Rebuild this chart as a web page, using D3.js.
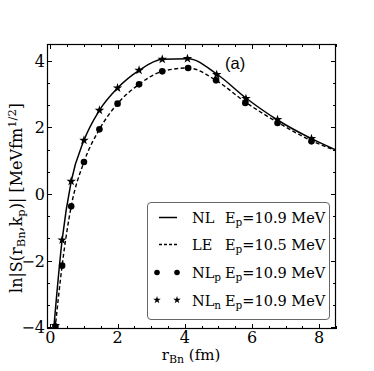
<!DOCTYPE html>
<html><head><meta charset="utf-8">
<script src="https://cdn.jsdelivr.net/npm/d3@7"></script>
<style>body{margin:0;background:#fff}svg{display:block}</style>
</head><body>
<script>
// ---- data ----
const nlX = [0.1, 0.35, 0.62, 1.0, 1.46, 2.0, 2.64, 3.33, 4.1, 4.95, 5.82, 6.76, 7.77, 8.5];
const nlY = [-4.05, -1.38, 0.38, 1.61, 2.51, 3.18, 3.71, 4.04, 4.06, 3.6, 2.88, 2.22, 1.66, 1.32];
const leX = [0.14, 0.35, 0.62, 1.0, 1.46, 2.0, 2.64, 3.33, 4.1, 4.93, 5.8, 6.76, 7.77, 8.5];
const leY = [-4.05, -2.15, -0.37, 0.96, 1.94, 2.71, 3.29, 3.68, 3.78, 3.41, 2.76, 2.15, 1.6, 1.3];
const dotX = [0.15, 0.35, 0.62, 1.0, 1.46, 2.0, 2.64, 3.33, 4.1, 4.93, 5.8, 6.76, 7.77];
const dotY = [-3.98, -2.15, -0.37, 0.96, 1.94, 2.71, 3.29, 3.68, 3.78, 3.41, 2.73, 2.13, 1.58];
const starX = [0.15, 0.35, 0.62, 1.0, 1.46, 2.0, 2.64, 3.33, 4.08, 4.95, 5.82, 6.76, 7.77];
const starY = [-3.95, -1.38, 0.38, 1.61, 2.51, 3.18, 3.71, 4.04, 4.06, 3.58, 2.86, 2.23, 1.66];
const xTicks = [0, 2, 4, 6, 8];
const yTicks = [-4, -2, 0, 2, 4];
const legendLabels = ["NL", "LE", "NL", "NL"];
const legendSubs = ["", "", "p", "n"];
const legendEnergies = ["10.9", "10.5", "10.9", "10.9"];

const W = 374, H = 371;
const L = 47, R = 336, T = 44, B = 329;
const serif = "'DejaVu Serif', serif";

const svg = d3.select("body").append("svg").attr("width", W).attr("height", H);
const x = d3.scaleLinear().domain([-0.1, 8.5]).range([L, R]);
const y = d3.scaleLinear().domain([-4.05, 4.5]).range([B, T]);

svg.append("defs").append("clipPath").attr("id", "clip")
  .append("rect").attr("x", L).attr("y", T).attr("width", R - L).attr("height", B - T);

// ticks (inward, all sides)
const xMinor = d3.range(0, 8.51, 0.5);
const yMinor = d3.range(-4, 4.51, 2 / 3);
const tg = svg.append("g").attr("stroke", "#000").attr("stroke-width", 1);
xMinor.forEach(v => {
  const len = (Math.abs(v % 2) < 1e-6) ? 5 : 3;
  const px = Math.round(x(v)) + 0.5;
  tg.append("line").attr("x1", px).attr("x2", px).attr("y1", B).attr("y2", B - len);
  tg.append("line").attr("x1", px).attr("x2", px).attr("y1", T).attr("y2", T + len);
});
yMinor.forEach(v => {
  const major = yTicks.some(t => Math.abs(t - v) < 1e-6);
  const len = major ? 5 : 3;
  const py = Math.round(y(v)) + 0.5;
  tg.append("line").attr("x1", L).attr("x2", L + len).attr("y1", py).attr("y2", py);
  tg.append("line").attr("x1", R).attr("x2", R - len).attr("y1", py).attr("y2", py);
});

// frame
svg.append("rect").attr("x", L + 0.5).attr("y", T + 0.5).attr("width", R - L - 1).attr("height", B - T - 1)
  .attr("fill", "none").attr("stroke", "#000").attr("stroke-width", 1.2);

// tick labels
svg.append("g").selectAll("text").data(xTicks).join("text")
  .attr("x", d => x(d)).attr("y", 343).attr("text-anchor", "middle")
  .attr("font-family", serif).attr("font-size", 16).text(d => d);
svg.append("g").selectAll("text").data(yTicks).join("text")
  .attr("x", 45).attr("y", d => y(d) + 6).attr("text-anchor", "end")
  .attr("font-family", serif).attr("font-size", 16).text(d => d < 0 ? "\u2212" + Math.abs(d) : d);

// lines
const line = d3.line().x(d => x(d[0])).y(d => y(d[1])).curve(d3.curveMonotoneX);
const pg = svg.append("g").attr("clip-path", "url(#clip)");
pg.append("path").datum(d3.zip(leX, leY)).attr("d", line)
  .attr("fill", "none").attr("stroke", "#000").attr("stroke-width", 1.4).attr("stroke-dasharray", "4,2.5");
pg.append("path").datum(d3.zip(nlX, nlY)).attr("d", line)
  .attr("fill", "none").attr("stroke", "#000").attr("stroke-width", 1.5);

// markers
const star = d3.symbol().type(d3.symbolStar).size(28);
pg.selectAll("circle.dot").data(d3.zip(dotX, dotY)).join("circle")
  .attr("cx", d => x(d[0])).attr("cy", d => y(d[1])).attr("r", 3.3).attr("fill", "#000");
pg.selectAll("path.star").data(d3.zip(starX, starY)).join("path")
  .attr("transform", d => `translate(${x(d[0])},${y(d[1])})`).attr("d", star).attr("fill", "#000");

// (a)
svg.append("text").attr("x", 225).attr("y", 68.5).attr("font-family", "'Liberation Sans', sans-serif")
  .attr("font-size", 16.5).text("(a)");

// legend
const lg = svg.append("g");
lg.append("rect").attr("x", 147.5).attr("y", 202.5).attr("width", 182).attr("height", 117)
  .attr("rx", 3.5).attr("fill", "#fff").attr("stroke", "#666").attr("stroke-width", 1);
const rowY = [217.5, 244.5, 272.5, 300];
rowY.forEach((ry, i) => {
  if (i === 0) lg.append("line").attr("x1", 159).attr("x2", 177).attr("y1", ry).attr("y2", ry).attr("stroke", "#000").attr("stroke-width", 1.5);
  if (i === 1) lg.append("line").attr("x1", 159).attr("x2", 177).attr("y1", ry).attr("y2", ry).attr("stroke", "#000").attr("stroke-width", 1.3).attr("stroke-dasharray", "3,2");
  if (i === 2) [157, 177].forEach(cx => lg.append("circle").attr("cx", cx).attr("cy", ry).attr("r", 2.8).attr("fill", "#000"));
  if (i === 3) [157, 177].forEach(cx => lg.append("path").attr("transform", `translate(${cx},${ry})`).attr("d", d3.symbol().type(d3.symbolStar).size(18)()).attr("fill", "#000"));
  const t = lg.append("text").attr("x", 192).attr("y", ry + 5.5).attr("font-family", serif).attr("font-size", 14.5);
  t.append("tspan").text(legendLabels[i]);
  if (legendSubs[i]) t.append("tspan").attr("font-size", 10.5).attr("dy", 3).text(legendSubs[i]);
  const e = lg.append("text").attr("x", 225).attr("y", ry + 5.5).attr("font-family", serif).attr("font-size", 14.5);
  e.append("tspan").text("E");
  e.append("tspan").attr("font-size", 10.5).attr("dy", 3).text("p");
  e.append("tspan").attr("dy", -3).text("=" + legendEnergies[i] + " MeV");
});

// axis titles
const xt = svg.append("text").attr("x", 191).attr("y", 360).attr("text-anchor", "middle")
  .attr("font-family", serif).attr("font-size", 15);
xt.append("tspan").text("r");
xt.append("tspan").attr("font-size", 11).attr("dy", 3).text("Bn");
xt.append("tspan").attr("dy", -3).text(" (fm)");

const yt = svg.append("text").attr("transform", "translate(22,198) rotate(-90)").attr("text-anchor", "middle")
  .attr("font-family", serif).attr("font-size", 16);
yt.append("tspan").text("ln|S(r");
yt.append("tspan").attr("font-size", 11.5).attr("dy", 3).text("Bn");
yt.append("tspan").attr("dy", -3).text(",k");
yt.append("tspan").attr("font-size", 11.5).attr("dy", 3).text("p");
yt.append("tspan").attr("dy", -3).text(")| [MeVfm");
yt.append("tspan").attr("font-size", 11.5).attr("dy", -6).text("1/2");
yt.append("tspan").attr("dy", 6).text("]");
</script>
</body></html>
